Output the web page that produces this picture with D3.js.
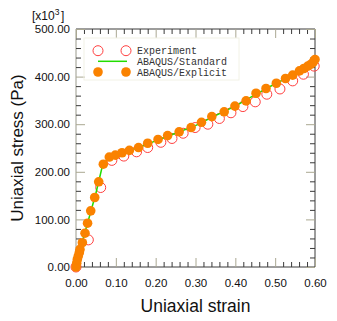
<!DOCTYPE html>
<html>
<head>
<meta charset="utf-8">
<script src="https://cdn.jsdelivr.net/npm/d3@7"></script>
<style>
  body { margin: 0; background: #fff; }
  text { font-family: "Liberation Sans", Arial, Helvetica, sans-serif; }
  .tick text { font-size: 11.5px; fill: #111; }
  .legend text { font-family: "Liberation Mono", "Courier New", monospace; font-size: 10px; fill: #333; }
</style>
</head>
<body>
<script>
// Data (strain, stress in kPa)
var expStrain = [0.000, 0.031, 0.062, 0.090, 0.120, 0.152, 0.180, 0.213, 0.241, 0.269, 0.299, 0.331, 0.360, 0.389, 0.419, 0.450, 0.479, 0.512, 0.544, 0.571, 0.598];
var expStress = [0, 57, 167, 224, 233, 242, 251, 262, 270, 281, 293, 300, 312, 324, 337, 347, 363, 374, 391, 405, 422];

var stdStrain = [0.000, 0.010, 0.030, 0.050, 0.065, 0.080, 0.100, 0.150, 0.200, 0.250, 0.300, 0.350, 0.400, 0.450, 0.500, 0.550, 0.600];
var stdStress = [0, 37, 95, 155, 208, 229, 236, 249, 265, 281, 297, 318, 338, 362, 385, 405, 434];

var expliStrain = [0.000, 0.0018, 0.0033, 0.0058, 0.0083, 0.010, 0.016, 0.0226, 0.029, 0.037, 0.047, 0.057, 0.0686, 0.0836, 0.0987, 0.1155, 0.134, 0.157, 0.180, 0.206, 0.230, 0.259, 0.289, 0.315, 0.341, 0.372, 0.399, 0.427, 0.452, 0.477, 0.503, 0.526, 0.544, 0.561, 0.572, 0.582, 0.590, 0.596, 0.600];
var expliStress = [0, 8, 16, 23, 30, 37, 51, 71, 92, 118, 146, 179, 216, 231, 235, 240, 245, 251, 260, 268, 276, 284, 293, 304, 316, 326, 338, 349, 365, 375, 386, 396, 403, 412, 417, 422, 426, 431, 436];

var xTicks = [0, 0.1, 0.2, 0.3, 0.4, 0.5, 0.6];
var yTicks = [0, 100, 200, 300, 400, 500];
var legendLabels = ["Experiment", "ABAQUS/Standard", "ABAQUS/Explicit"];

var svgWidth = 337;
var svgHeight = 321;
var margin = { top: 29, right: 22, bottom: 54, left: 76 };
var chartWidth = svgWidth - margin.left - margin.right;
var chartHeight = svgHeight - margin.top - margin.bottom;

var orange = "#fa8200";
var green = "#22dd00";
var red = "#ff4040";
var tickDark = "#3a3a3a";
var tickTan = "#aaa892";

var svg = d3.select("body").append("svg")
  .attr("width", svgWidth)
  .attr("height", svgHeight);

var chartGroup = svg.append("g")
  .attr("transform", `translate(${margin.left}, ${margin.top})`);

var xScale = d3.scaleLinear().domain([0, 0.6]).range([0, chartWidth]);
var yScale = d3.scaleLinear().domain([0, 500]).range([chartHeight, 0]);

var xMinor = d3.range(0, 0.6001, 0.02).filter(d => Math.abs(d * 10 - Math.round(d * 10)) > 1e-6);
var yMinor = d3.range(0, 500.1, 20).filter(d => d % 100 !== 0);

// frame
chartGroup.append("line").attr("x1", 0).attr("x2", chartWidth).attr("y1", 0).attr("y2", 0).attr("stroke", tickDark);
chartGroup.append("line").attr("x1", chartWidth).attr("x2", chartWidth).attr("y1", 0).attr("y2", chartHeight).attr("stroke", tickDark);
chartGroup.append("line").attr("x1", 0).attr("x2", chartWidth).attr("y1", chartHeight).attr("y2", chartHeight).attr("stroke", tickDark);
chartGroup.append("line").attr("x1", 0).attr("x2", 0).attr("y1", 0).attr("y2", chartHeight).attr("stroke", "#9a9a8c");

function styleAxis(g, color) {
  g.select(".domain").remove();
  g.selectAll(".tick line").attr("stroke", color);
}

// minor ticks, pointing inward
chartGroup.append("g").call(d3.axisLeft(yScale).tickValues(yMinor).tickSize(-5).tickFormat(""))
  .call(g => styleAxis(g, tickDark));
chartGroup.append("g").attr("transform", `translate(${chartWidth},0)`)
  .call(d3.axisRight(yScale).tickValues(yMinor).tickSize(-5).tickFormat(""))
  .call(g => styleAxis(g, tickDark));
chartGroup.append("g").call(d3.axisTop(xScale).tickValues(xMinor).tickSize(-5).tickFormat(""))
  .call(g => styleAxis(g, tickDark));
chartGroup.append("g").attr("transform", `translate(0,${chartHeight})`)
  .call(d3.axisBottom(xScale).tickValues(xMinor).tickSize(-5).tickFormat(""))
  .call(g => styleAxis(g, tickDark));

// major ticks with labels
chartGroup.append("g")
  .call(d3.axisLeft(yScale).tickValues(yTicks).tickSize(-9).tickPadding(6).tickFormat(d3.format(".2f")))
  .call(g => styleAxis(g, tickTan));
chartGroup.append("g").attr("transform", `translate(0,${chartHeight})`)
  .call(d3.axisBottom(xScale).tickValues(xTicks).tickSize(-9).tickPadding(12).tickFormat(d3.format(".2f")))
  .call(g => styleAxis(g, tickTan));
chartGroup.append("g").attr("transform", `translate(${chartWidth},0)`)
  .call(d3.axisRight(yScale).tickValues(yTicks).tickSize(-9).tickFormat(""))
  .call(g => styleAxis(g, tickTan));
chartGroup.append("g")
  .call(d3.axisTop(xScale).tickValues(xTicks).tickSize(-9).tickFormat(""))
  .call(g => styleAxis(g, tickTan));

svg.selectAll(".tick text").attr("fill", "#111");

// axis titles
svg.append("text")
  .attr("transform", `translate(23, 148) rotate(-90)`)
  .attr("text-anchor", "middle")
  .style("font-size", "17px")
  .attr("fill", "#111")
  .text("Uniaxial stress (Pa)");

svg.append("text")
  .attr("x", margin.left + chartWidth / 2)
  .attr("y", 312)
  .attr("text-anchor", "middle")
  .style("font-size", "17.5px")
  .attr("fill", "#111")
  .text("Uniaxial strain");

var unit = svg.append("text")
  .attr("x", 32)
  .attr("y", 20)
  .style("font-size", "12px")
  .attr("fill", "#111");
unit.append("tspan").text("[x10");
unit.append("tspan").attr("dy", -5).style("font-size", "8.5px").text("3");
unit.append("tspan").attr("dy", 5).attr("dx", 1.5).text("]");

// experiment
var expData = expStrain.map((d, i) => ({ x: d, y: expStress[i] }));
chartGroup.selectAll("circle.exp")
  .data(expData)
  .enter()
  .append("circle")
  .attr("class", "exp")
  .attr("cx", d => xScale(d.x))
  .attr("cy", d => yScale(d.y))
  .attr("r", 5)
  .attr("fill", "none")
  .attr("stroke", red);

// standard line
var stdData = stdStrain.map((d, i) => ({ x: d, y: stdStress[i] }));
var drawLine = d3.line()
  .x(d => xScale(d.x))
  .y(d => yScale(d.y));
chartGroup.append("path")
  .attr("d", drawLine(stdData))
  .attr("fill", "none")
  .attr("stroke", green)
  .attr("stroke-width", 1.5);

// explicit
var expliData = expliStrain.map((d, i) => ({ x: d, y: expliStress[i] }));
chartGroup.selectAll("circle.expli")
  .data(expliData)
  .enter()
  .append("circle")
  .attr("class", "expli")
  .attr("cx", d => xScale(d.x))
  .attr("cy", d => yScale(d.y))
  .attr("r", 4.8)
  .attr("fill", orange);

// legend
var legend = svg.append("g").attr("class", "legend");
legend.append("rect")
  .attr("x", 84).attr("y", 38).attr("width", 155).attr("height", 42)
  .attr("fill", "none").attr("stroke", "#f2f2e6");

[0, 1].forEach(function(i) {
  legend.append("circle")
    .attr("cx", 98 + i * 28).attr("cy", 50.7).attr("r", 5)
    .attr("fill", "none").attr("stroke", red);
  legend.append("circle")
    .attr("cx", 98 + i * 28).attr("cy", 72).attr("r", 4.8)
    .attr("fill", orange);
});
legend.append("line")
  .attr("x1", 98).attr("x2", 127).attr("y1", 61.3).attr("y2", 61.3)
  .attr("stroke", green).attr("stroke-width", 1.5);

legend.selectAll("text")
  .data(legendLabels)
  .enter()
  .append("text")
  .attr("x", 137)
  .attr("y", (d, i) => 54 + i * 11)
  .text(d => d);
</script>
</body>
</html>
